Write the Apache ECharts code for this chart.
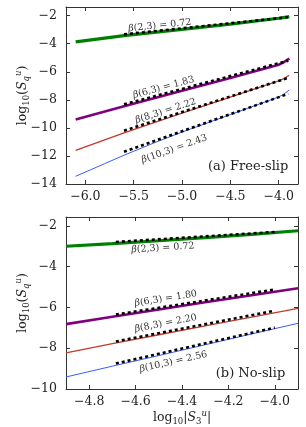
<!DOCTYPE html>
<html><head><meta charset="utf-8">
<script src="https://cdn.jsdelivr.net/npm/echarts@6/dist/echarts.min.js"></script>
<style>html,body{margin:0;padding:0;background:#fff}#c{width:306px;height:427px}</style>
</head><body><div id="c"></div>
<script>
// ---------- Panel (a) Free-slip ----------
const freeXTicks = [-6.0, -5.5, -5.0, -4.5, -4.0];
const freeYTicks = [-14, -12, -10, -8, -6, -4, -2];
const freeQ2  = [[-6.1,-3.87],[-5.6,-3.42],[-5.0,-2.98],[-4.5,-2.6],[-4.0,-2.18],[-3.89,-2.07]];
const freeQ6  = [[-6.1,-9.4],[-5.6,-8.45],[-5.0,-7.35],[-4.5,-6.45],[-4.0,-5.5],[-3.95,-5.33],[-3.89,-5.05]];
const freeQ8  = [[-6.1,-11.6],[-5.6,-10.35],[-5.0,-8.95],[-4.5,-7.8],[-4.0,-6.65],[-3.95,-6.5],[-3.89,-6.25]];
const freeQ10 = [[-6.1,-13.45],[-5.8,-12.55],[-5.6,-11.95],[-5.3,-11.1],[-5.0,-10.3],[-4.5,-9.05],[-4.0,-7.8],[-3.95,-7.6],[-3.89,-7.3]];
const freeFit2  = [[-5.6,-3.33],[-3.9,-2.11]];
const freeFit6  = [[-5.6,-8.32],[-3.9,-5.21]];
const freeFit8  = [[-5.6,-10.2],[-3.9,-6.43]];
const freeFit10 = [[-5.6,-11.7],[-3.9,-7.57]];
const freeBetaText  = ['(2,3) = 0.72','(6,3) = 1.83','(8,3) = 2.22','(10,3) = 2.43'];
const freeBetaSlope = [0.72, 1.83, 2.22, 2.43];
const freeBetaAt    = [[-5.23,-2.7],[-5.19,-7.12],[-5.17,-8.8],[-5.08,-11.5]];
const freeTitle = '(a) Free-slip';
const freeTitleAt = [-3.9, -12.74];

// ---------- Panel (b) No-slip ----------
const noXTicks = [-4.8, -4.6, -4.4, -4.2, -4.0];
const noYTicks = [-10, -8, -6, -4, -2];
const noQ2  = [[-4.9,-3.0],[-4.7,-2.87],[-4.5,-2.73],[-4.3,-2.58],[-4.1,-2.42],[-3.9,-2.24]];
const noQ6  = [[-4.9,-6.82],[-4.7,-6.46],[-4.5,-6.1],[-4.3,-5.75],[-4.1,-5.4],[-3.9,-5.06]];
const noQ8  = [[-4.9,-8.23],[-4.7,-7.78],[-4.5,-7.34],[-4.3,-6.9],[-4.1,-6.48],[-3.9,-6.05]];
const noQ10 = [[-4.9,-9.41],[-4.7,-8.88],[-4.5,-8.36],[-4.3,-7.83],[-4.1,-7.3],[-3.9,-6.78]];
const noFit2  = [[-4.685,-2.79],[-4.0,-2.3]];
const noFit6  = [[-4.685,-6.35],[-4.0,-5.12]];
const noFit8  = [[-4.685,-7.67],[-4.0,-6.16]];
const noFit10 = [[-4.685,-8.75],[-4.0,-6.99]];
const noBetaText  = ['(2,3) = 0.72','(6,3) = 1.80','(8,3) = 2.20','(10,3) = 2.56'];
const noBetaSlope = [0.72, 1.80, 2.20, 2.56];
const noBetaAt    = [[-4.482,-3.08],[-4.47,-5.57],[-4.47,-6.78],[-4.437,-8.67]];
const noTitle = '(b) No-slip';
const noTitleAt = [-3.955, -9.23];

const FONT = 'DejaVu Serif';
const TICK = 12.5;
const colors = ['#008000', '#800080', '#c0392b', '#3a5cff'];
const widths = [3.2, 2.6, 1.3, 1.0];
const fmt1 = v => (v < 0 ? '\u2212' : '') + Math.abs(v).toFixed(1);
const fmt0 = v => (v < 0 ? '\u2212' : '') + Math.abs(v).toFixed(0);

const nameRich = {
  n: { fontFamily: FONT, fontSize: 12.5, color: '#222' },
  s: { fontFamily: FONT, fontSize: 8.5, color: '#222', padding: [7,0,0,0] },
  i: { fontFamily: FONT, fontSize: 12.5, fontStyle: 'italic', color: '#222' },
  q: { fontFamily: FONT, fontSize: 8.5, fontStyle: 'italic', color: '#222', padding: [7,0,0,0] },
  u: { fontFamily: FONT, fontSize: 8.5, fontStyle: 'italic', color: '#222', padding: [0,0,9,0] }
};

function xAx(grid, min, max, ticks, pos, showLabel, name) {
  return {
    type: 'value', gridIndex: grid, min, max, position: pos,
    axisLine: { show: true, onZero: false, lineStyle: { color: '#333', width: 1 } },
    axisTick: { show: true, inside: true, length: 4, customValues: ticks, lineStyle: { color: '#333' } },
    axisLabel: { show: showLabel, customValues: ticks, formatter: fmt1, fontFamily: FONT, fontSize: TICK, color: '#222', margin: 6 },
    splitLine: { show: false },
    name: name || '', nameLocation: 'middle', nameGap: 20, nameMoveOverlap: false,
    nameTextStyle: { fontFamily: FONT, color: '#222', rich: nameRich }
  };
}
function yAx(grid, min, max, ticks, pos, showLabel, name) {
  return {
    type: 'value', gridIndex: grid, min, max, position: pos,
    axisLine: { show: true, onZero: false, lineStyle: { color: '#333', width: 1 } },
    axisTick: { show: true, inside: true, length: 4, customValues: ticks, lineStyle: { color: '#333' } },
    axisLabel: { show: showLabel, customValues: ticks, formatter: fmt0, fontFamily: FONT, fontSize: TICK, color: '#222', margin: 9 },
    splitLine: { show: false },
    name: name || '', nameLocation: 'middle', nameGap: 34, nameRotate: 90, nameMoveOverlap: false,
    nameTextStyle: { fontFamily: FONT, color: '#222', rich: nameRich }
  };
}

const yName = '{n|log}{s|10}{n|(}{i|S}{q|q}{u|u}{n|)}';
const xName = '{n|log}{s|10}{n||}{i|S}{s|3}{u|u}{n||}';

function lineSeries(data, xi, yi, idx) {
  return { type: 'line', xAxisIndex: xi, yAxisIndex: yi, data, symbol: 'none', smooth: false,
    lineStyle: { color: colors[idx], width: widths[idx] }, z: 2, animation: false, silent: true };
}
function fitSeries(data, xi, yi) {
  return { type: 'line', xAxisIndex: xi, yAxisIndex: yi, data, symbol: 'none',
    lineStyle: { color: '#000', width: 2.6, type: [3, 3], cap: 'butt' }, z: 3, animation: false, silent: true };
}

const freeSets = [freeQ2, freeQ6, freeQ8, freeQ10];
const freeFits = [freeFit2, freeFit6, freeFit8, freeFit10];
const noSets = [noQ2, noQ6, noQ8, noQ10];
const noFits = [noFit2, noFit6, noFit8, noFit10];

const series = [];
freeSets.forEach((d, i) => series.push(lineSeries(d, 0, 0, i)));
freeFits.forEach(d => series.push(fitSeries(d, 0, 0)));
noSets.forEach((d, i) => series.push(lineSeries(d, 2, 2, i)));
noFits.forEach(d => series.push(fitSeries(d, 2, 2)));

const option = {
  animation: false,
  backgroundColor: '#fff',
  grid: [
    { left: 66, top: 7, width: 232, height: 177, containLabel: false },
    { left: 66, top: 217, width: 232, height: 175, containLabel: false }
  ],
  xAxis: [
    xAx(0, -6.2, -3.8, freeXTicks, 'bottom', true),
    xAx(0, -6.2, -3.8, freeXTicks, 'top', false),
    xAx(1, -4.9, -3.9, noXTicks, 'bottom', true, xName),
    xAx(1, -4.9, -3.9, noXTicks, 'top', false)
  ],
  yAxis: [
    yAx(0, -14, -1.38, freeYTicks, 'left', true, yName),
    yAx(0, -14, -1.38, freeYTicks, 'right', false),
    yAx(1, -10, -1.565, noYTicks, 'left', true, yName),
    yAx(1, -10, -1.565, noYTicks, 'right', false)
  ],
  series
};

const chart = echarts.init(document.getElementById('c'), null, { renderer: 'canvas' });
chart.setOption(option);

const betaRich = {
  b: { fontFamily: FONT, fontSize: 9.5, fontStyle: 'italic', fill: '#333', color: '#333' },
  t: { fontFamily: FONT, fontSize: 9.5, fill: '#333', color: '#333' }
};
const graphics = [];
function addBeta(texts, slopes, ats, xi, yi) {
  texts.forEach((t, i) => {
    const finder = { xAxisIndex: xi, yAxisIndex: yi };
    const p = chart.convertToPixel(finder, ats[i]);
    const q = chart.convertToPixel(finder, [ats[i][0] + 1, ats[i][1] + slopes[i]]);
    const ang = -Math.atan2(q[1] - p[1], q[0] - p[0]);
    graphics.push({
      type: 'text', x: p[0], y: p[1], rotation: ang, z: 10,
      style: { text: '{b|\u03b2}{t|' + t + '}', rich: betaRich, align: 'center', verticalAlign: 'middle', fill: '#333' }
    });
  });
}
addBeta(freeBetaText, freeBetaSlope, freeBetaAt, 0, 0);
addBeta(noBetaText, noBetaSlope, noBetaAt, 2, 2);
function addTitle(txt, at, xi, yi) {
  const p = chart.convertToPixel({ xAxisIndex: xi, yAxisIndex: yi }, at);
  graphics.push({ type: 'text', x: p[0], y: p[1], z: 10,
    style: { text: txt, font: '13px "DejaVu Serif"', fill: '#222', align: 'right', verticalAlign: 'middle' } });
}
addTitle(freeTitle, freeTitleAt, 0, 0);
addTitle(noTitle, noTitleAt, 2, 2);
chart.setOption({ graphic: graphics });
</script>
</body></html>
